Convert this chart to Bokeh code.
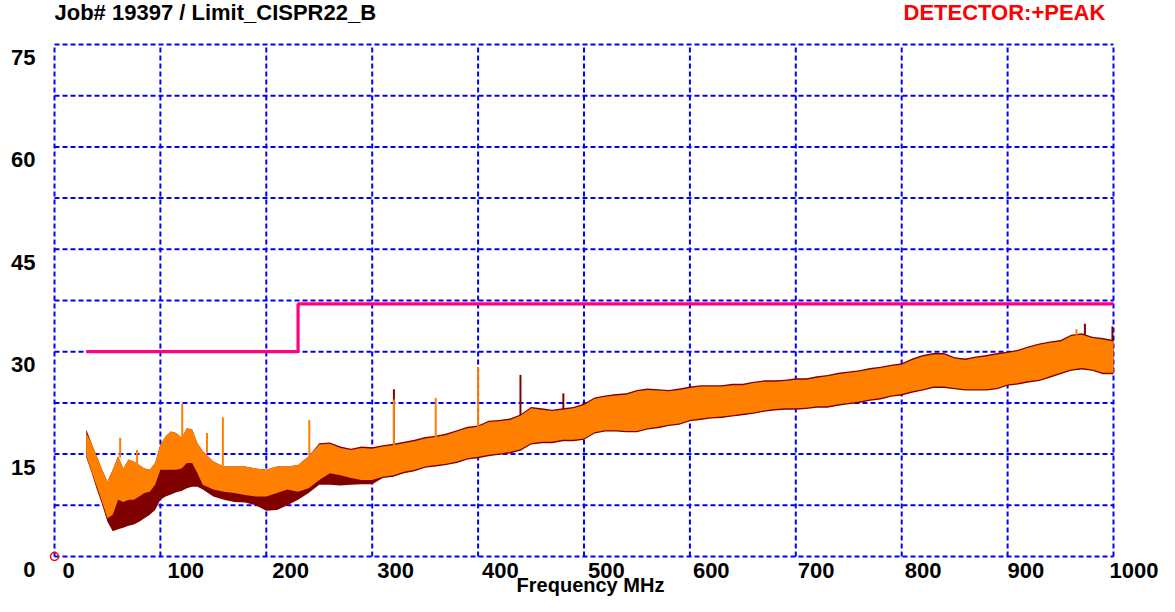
from bokeh.plotting import figure
from bokeh.models import Range1d
from bokeh.embed import file_html
from bokeh.resources import INLINE
from bokeh.core.properties import value

# ---------------- data ----------------
freq = [30, 35, 40, 45, 50, 55, 60, 65, 70, 75, 80, 85, 90, 95, 100, 105, 110, 115, 120, 125, 130, 135, 140,
        150, 160, 170, 180, 190, 200, 210, 220, 230, 240, 250, 260, 270, 280, 290, 300, 310, 320, 330, 340, 350,
        360, 370, 380, 390, 400, 410, 420, 430, 440, 450, 460, 470, 480, 490, 500, 510, 520, 530, 540, 550,
        560, 570, 580, 590, 600, 610, 620, 630, 640, 650, 660, 670, 680, 690, 700, 710, 720, 730, 740, 750,
        760, 770, 780, 790, 800, 810, 820, 830, 840, 850, 860, 870, 880, 890, 900, 910, 920, 930, 940, 950,
        960, 970, 980, 990, 1000]

# orange trace (upper / lower envelope, dB)
orange_hi = [18.1, 16.6, 14.7, 12.7, 11.0, 12.7, 14.7, 12.9, 14.2, 13.9, 13.4, 12.9, 12.7, 13.7, 16.4, 17.6, 18.3, 18.1, 17.4, 18.8, 18.6, 16.6, 15.4,
             13.9, 13.2, 13.2, 13.2, 12.9, 12.7, 13.2, 13.2, 13.4, 14.7, 16.4, 16.5, 15.9, 15.6, 15.9, 15.8, 16.1, 16.3, 16.6, 16.9, 17.3,
             17.5, 17.8, 18.3, 18.8, 19.0, 19.7, 19.8, 20.0, 20.6, 21.7, 21.5, 21.3, 21.5, 21.7, 22.2, 23.1, 23.4, 23.6, 23.7, 24.2,
             24.4, 24.3, 24.2, 24.4, 24.7, 24.9, 24.9, 24.9, 25.1, 25.1, 25.4, 25.6, 25.6, 25.7, 25.9, 25.9, 26.2, 26.4, 26.7, 26.9,
             27.1, 27.4, 27.6, 27.9, 28.1, 28.8, 29.3, 29.6, 29.6, 29.0, 28.8, 29.1, 29.3, 29.6, 29.8, 30.1, 30.6, 31.0, 31.3, 31.5,
             32.3, 32.5, 32.0, 31.8, 31.5]
orange_lo = [14.7, 12.5, 10.2, 8.0, 5.6, 6.1, 8.3, 8.0, 8.3, 8.3, 8.8, 9.3, 9.5, 10.5, 12.7, 12.7, 12.7, 12.7, 12.9, 13.7, 13.7, 12.2, 10.5,
             9.8, 9.5, 9.3, 9.0, 8.8, 8.8, 9.3, 9.8, 9.5, 10.0, 11.2, 12.2, 11.9, 11.5, 11.2, 11.2, 11.7, 11.9, 12.4, 12.7, 13.2,
             13.4, 13.6, 13.9, 14.4, 14.6, 14.9, 15.1, 15.3, 15.7, 16.6, 16.8, 16.8, 17.1, 17.1, 17.3, 18.2, 18.5, 18.5, 18.4, 18.4,
             18.8, 19.0, 19.3, 19.5, 20.0, 20.2, 20.4, 20.5, 20.7, 20.9, 21.1, 21.4, 21.6, 21.7, 21.7, 21.8, 22.0, 22.0, 22.3, 22.5,
             22.7, 23.0, 23.2, 23.6, 23.8, 24.2, 24.5, 24.9, 24.9, 24.7, 24.5, 24.5, 24.5, 24.7, 25.2, 25.4, 25.7, 25.9, 26.4, 26.9,
             27.4, 27.6, 27.4, 26.9, 26.9]

# dark red trace (upper / lower envelope)
red_hi = [18.6, 16.6, 14.7, 12.7, 11.0, 12.7, 14.7, 12.9, 14.2, 13.9, 13.4, 12.9, 12.7, 13.7, 16.4, 17.6, 18.3, 18.1, 17.4, 18.8, 18.6, 16.6, 15.4,
          13.9, 13.2, 13.2, 13.2, 12.9, 12.7, 13.2, 13.2, 13.4, 14.7, 16.6, 16.7, 16.1, 15.8, 16.1, 16.0, 16.3, 16.5, 16.8, 17.1, 17.5,
          17.7, 18.0, 18.5, 19.0, 19.2, 19.9, 20.0, 20.2, 20.8, 21.9, 21.7, 21.5, 21.7, 21.9, 22.4, 23.3, 23.6, 23.8, 23.9, 24.4,
          24.6, 24.5, 24.4, 24.6, 24.9, 25.1, 25.1, 25.1, 25.3, 25.3, 25.6, 25.8, 25.8, 25.9, 26.1, 26.1, 26.4, 26.6, 26.9, 27.1,
          27.3, 27.6, 27.8, 28.1, 28.3, 29.0, 29.5, 29.8, 29.8, 29.2, 29.0, 29.3, 29.5, 29.8, 30.0, 30.3, 30.8, 31.2, 31.5, 31.7,
          32.5, 32.7, 32.2, 32.0, 31.7]
red_lo = [14.5, 12.3, 9.8, 7.6, 5.1, 3.7, 4.0, 4.2, 4.5, 4.7, 5.1, 5.6, 6.1, 6.8, 8.3, 8.8, 9.1, 9.4, 9.6, 10.0, 10.2, 10.2, 9.8,
          8.8, 8.3, 8.0, 7.9, 7.5, 6.7, 6.8, 7.5, 8.3, 9.3, 10.5, 10.5, 10.4, 10.5, 10.6, 10.6, 11.5, 11.7, 12.2, 12.5, 13.0,
          13.2, 13.4, 13.7, 14.2, 14.4, 14.7, 14.9, 15.1, 15.5, 16.4, 16.6, 16.6, 16.9, 16.9, 17.1, 18.0, 18.3, 18.3, 18.2, 18.2,
          18.6, 18.8, 19.1, 19.3, 19.8, 20.0, 20.2, 20.3, 20.5, 20.7, 20.9, 21.2, 21.4, 21.5, 21.5, 21.6, 21.8, 21.8, 22.1, 22.3,
          22.5, 22.8, 23.0, 23.4, 23.6, 24.0, 24.3, 24.7, 24.7, 24.5, 24.3, 24.3, 24.3, 24.5, 25.0, 25.2, 25.5, 25.7, 26.2, 26.7,
          27.2, 27.4, 27.2, 26.7, 26.7]

# narrow-band spikes
orange_spike_f = [62, 78, 120.6, 144, 159, 240.6, 320.5, 360, 400, 965]
orange_spike_base = [14.5, 13.6, 17.4, 15.2, 13.3, 14.7, 16.3, 17.5, 19.0, 32.4]
orange_spike_top = [17.4, 15.6, 22.35, 18.1, 20.4, 20.0, 23.0, 23.2, 27.8, 33.3]
red_spike_f = [320.5, 440, 480.5, 973, 999]
red_spike_base = [16.3, 20.6, 21.4, 32.4, 31.5]
red_spike_top = [24.5, 26.6, 23.9, 34.1, 33.7]

# limit line CISPR22 class B
limit_f = [30, 230, 230, 1000]
limit_db = [30, 30, 37, 37]

# axes / grid
x_grid = [0, 100, 200, 300, 400, 500, 600, 700, 800, 900, 1000]
y_grid = [0, 7.5, 15, 22.5, 30, 37.5, 45, 52.5, 60, 67.5, 75]
x_tick_labels = ["0", "100", "200", "300", "400", "500", "600", "700", "800", "900", "1000"]
y_ticks = [75, 60, 45, 30, 15, 0]
y_tick_labels = ["75", "60", "45", "30", "15", "0"]

title_text = "Job# 19397 / Limit_CISPR22_B"
detector_text = "DETECTOR:+PEAK"
x_title = "Frequency MHz"

# ---------------- figure ----------------
W, H = 1159, 596
XS = 1.059      # px per MHz
YS = 6.8267     # px per dB
X0 = 54         # px of 0 MHz
Y0 = 556        # px of 0 dB
p = figure(width=W, height=H, output_backend="svg", toolbar_location=None, title=None,
           x_axis_type=None, y_axis_type=None,
           x_range=Range1d(-X0 / XS, (W - X0) / XS), y_range=Range1d(-(H - Y0) / YS, Y0 / YS),
           min_border=0, outline_line_color=None, tools="")
p.background_fill_color = "white"
p.border_fill_color = "white"


def px2x(px):  # canvas pixel -> frequency
    return (px - X0) / XS


def py2y(py):  # canvas pixel -> dB
    return (Y0 - py) / YS


FONT = value("Liberation Sans")
BLUE = "#0000FF"

# dashed grid
p.segment(x0=x_grid, y0=[y_grid[0]] * len(x_grid), x1=x_grid, y1=[y_grid[-1]] * len(x_grid),
          line_color=BLUE, line_width=2, line_dash="5 3")
p.segment(x0=[x_grid[0]] * len(y_grid), y0=y_grid, x1=[x_grid[-1]] * len(y_grid), y1=y_grid,
          line_color=BLUE, line_width=2, line_dash="5 3")

# dark red trace
p.varea(x=freq, y1=red_lo, y2=red_hi, fill_color="#800000")
p.segment(x0=red_spike_f, y0=red_spike_base, x1=red_spike_f, y1=red_spike_top,
          line_color="#800000", line_width=2)
# orange trace
p.varea(x=freq, y1=orange_lo, y2=orange_hi, fill_color="#FF8000")
p.segment(x0=orange_spike_f, y0=orange_spike_base, x1=orange_spike_f, y1=orange_spike_top,
          line_color="#FF8000", line_width=2)

# limit
p.line(limit_f, limit_db, line_color="#FF0080", line_width=3.2)

# origin marker
p.scatter(x=[x_grid[0]], y=[y_grid[0]], marker="circle", size=8, fill_color=None,
          line_color="#FF0000", line_width=1.5)

# tick labels
p.text(x=[px2x(35)] * len(y_ticks), y=y_ticks, text=y_tick_labels, y_offset=13,
       text_align="right", text_baseline="middle", text_font=FONT, text_font_style="bold",
       text_font_size="22px", text_color="black")
p.text(x=x_grid, y=[0] * len(x_grid), text=x_tick_labels,
       x_offset=[8, 7, 6, 5, 4, 4, 3, 2, 3, 0, -4], y_offset=14,
       text_align="left", text_baseline="middle", text_font=FONT, text_font_style="bold",
       text_font_size="22px", text_color="black")

# titles
p.text(x=[px2x(54)], y=[py2y(12)], text=[title_text], text_align="left", text_baseline="middle",
       text_font=FONT, text_font_style="bold", text_font_size="22px", text_color="black")
p.text(x=[px2x(903)], y=[py2y(12)], text=[detector_text], text_align="left", text_baseline="middle",
       text_font=FONT, text_font_style="bold", text_font_size="22px", text_color="#FF0000")
p.text(x=[px2x(590)], y=[py2y(584)], text=[x_title], text_align="center", text_baseline="middle",
       text_font=FONT, text_font_style="bold", text_font_size="20px", text_color="black")

open("out.html", "w").write(file_html(p, INLINE))
